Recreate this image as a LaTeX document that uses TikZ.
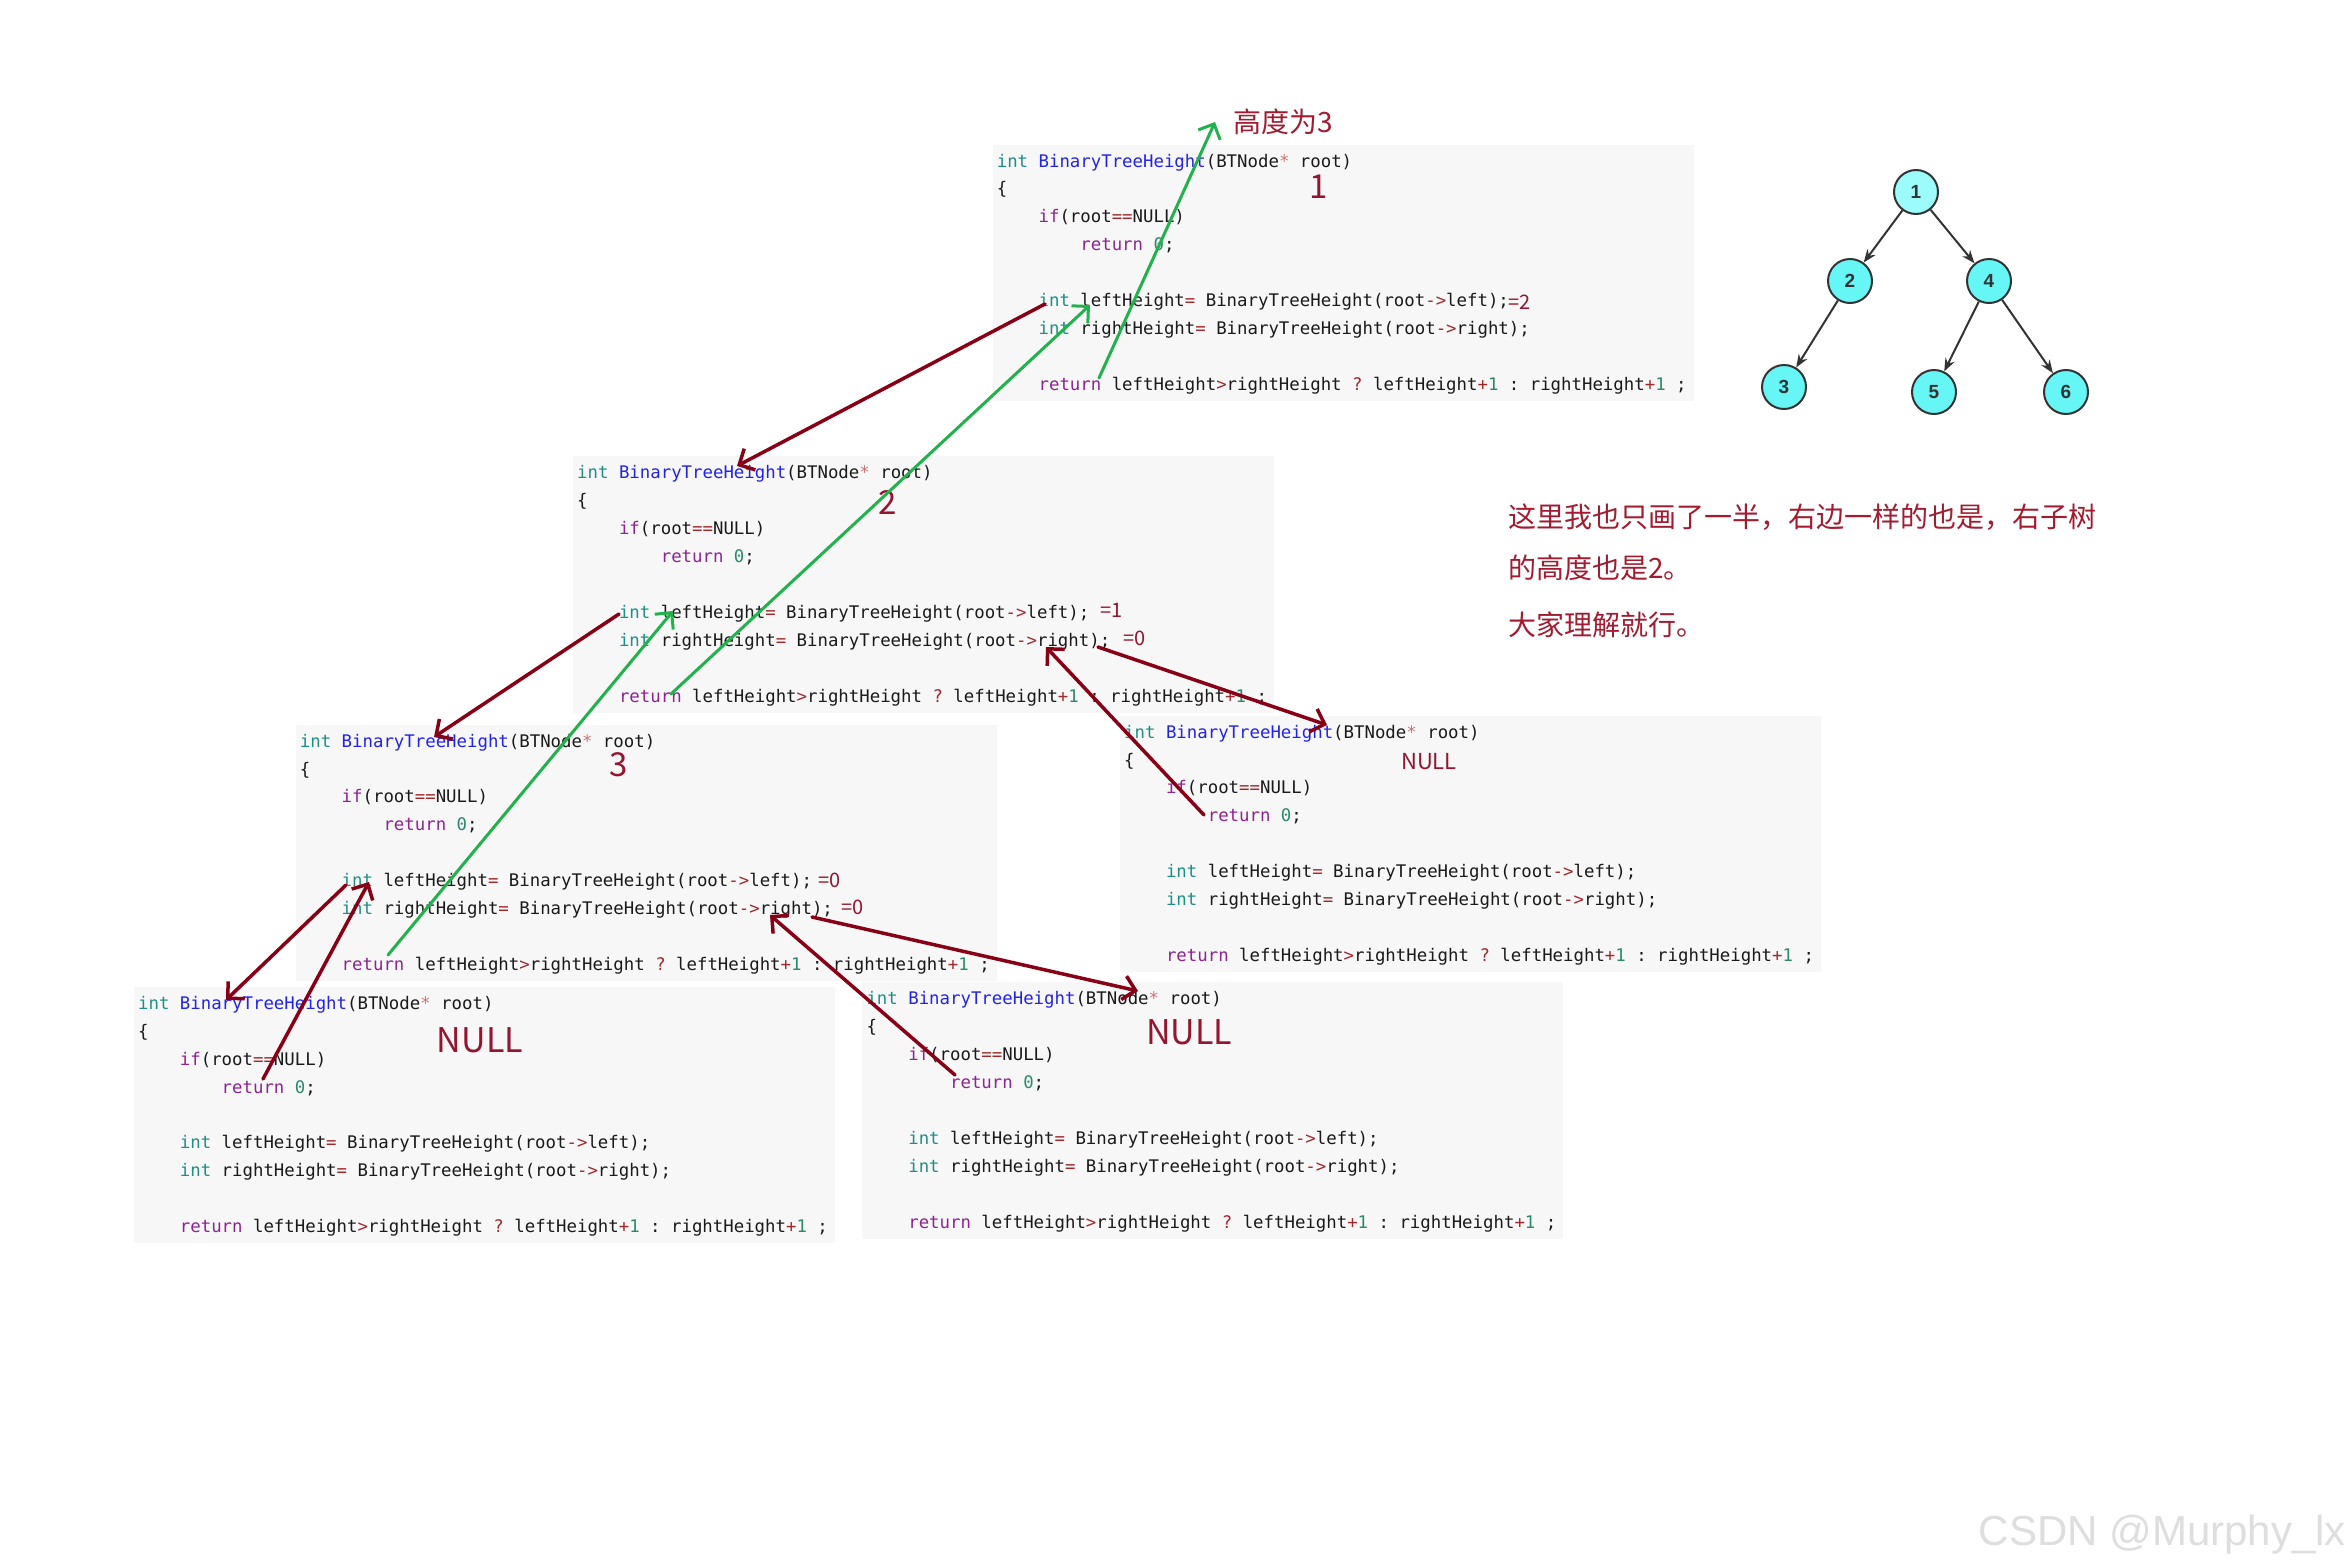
\documentclass[tikz,border=0pt]{standalone}
\usepackage{fontspec}
\setmainfont{Liberation Sans}
\setsansfont{Liberation Sans}
\setmonofont{DejaVu Sans Mono}
\newfontfamily\cjk{Noto Sans CJK SC}
\usetikzlibrary{arrows.meta}
\definecolor{codebg}{HTML}{F7F7F7}
\definecolor{ckwcol}{HTML}{1F8F86}
\definecolor{cfncol}{HTML}{2323E6}
\definecolor{cctlcol}{HTML}{8E2394}
\definecolor{copcol}{HTML}{A0282D}
\definecolor{cstcol}{HTML}{C87878}
\definecolor{cnmcol}{HTML}{2A8A6A}
\definecolor{ctxtcol}{HTML}{1A1A1A}
\definecolor{arrred}{HTML}{880015}
\definecolor{lblred}{HTML}{941530}
\definecolor{notered}{HTML}{A31B30}
\definecolor{arrgreen}{HTML}{22B14C}
\definecolor{tfillA}{HTML}{9CFCFC}
\definecolor{tfillB}{HTML}{66F6F6}
\definecolor{tline}{HTML}{333333}
\definecolor{wmcol}{HTML}{DEDEDE}
\newcommand\ckw[1]{\textcolor{ckwcol}{#1}}
\newcommand\cfn[1]{\textcolor{cfncol}{#1}}
\newcommand\cctl[1]{\textcolor{cctlcol}{#1}}
\newcommand\cop[1]{\textcolor{copcol}{#1}}
\newcommand\cst[1]{\textcolor{cstcol}{#1}}
\newcommand\cnm[1]{\textcolor{cnmcol}{#1}}
\newcommand\codefont{\ttfamily\fontsize{17.36}{20}\selectfont\frenchspacing}
\tikzset{
  code/.style={anchor=base west, inner sep=0pt, font=\codefont, text=ctxtcol},
  bignum/.style={inner sep=0pt, text=lblred, font=\cjk\fontsize{33}{33}\selectfont},
  eqlbl/.style={anchor=base west, inner sep=0pt, text=lblred, font=\cjk\fontsize{20}{20}\selectfont},
  nulllbl/.style={inner sep=0pt, text=lblred, font=\cjk\fontsize{34}{34}\selectfont},
  notetxt/.style={anchor=west, inner sep=0pt, text=notered, font=\cjk\fontsize{28}{28}\selectfont},
  redarr/.style={draw=arrred, line width=3.5pt, line cap=round, line join=round,
    -{Straight Barb[length=12pt,width=24pt]}},
  greenarr/.style={draw=arrgreen, line width=3pt, line cap=round, line join=round,
    -{Straight Barb[length=12pt,width=24pt]}},
  tnode/.style={circle, draw=tline, line width=2pt, fill=tfillB, minimum size=44pt,
    inner sep=0pt, text=tline, font=\sffamily\bfseries\fontsize{19}{19}\selectfont},
  tarr/.style={draw=tline, line width=2pt, -{Stealth[length=13pt,width=10pt]}},
}
\newcommand\cblock[3]{%
  \fill[codebg] ({#2-4},{#3-22.5}) rectangle ({#2+697},{#3+234});
  \node[code] (#1h) at (#2,#3) {\ckw{int} \cfn{BinaryTreeHeight}(BTNode\cst{*} root)};
  \node[code] (#1b) at (#2,{#3+27.9}) {\{};
  \node[code] (#1i) at ({#2+41.8},{#3+55.8}) {\cctl{if}(root\cop{==}NULL)};
  \node[code] (#1r) at ({#2+83.6},{#3+83.7}) {\cctl{return} \cnm{0};};
  \node[code] (#1l) at ({#2+41.8},{#3+139.5}) {\ckw{int} leftHeight\cop{=} BinaryTreeHeight(root\cop{->}left);};
  \node[code] (#1g) at ({#2+41.8},{#3+167.4}) {\ckw{int} rightHeight\cop{=} BinaryTreeHeight(root\cop{->}right);};
  \node[code] (#1e) at ({#2+41.8},{#3+223.2}) {\cctl{return} leftHeight\cop{>}rightHeight \cop{?} leftHeight\cop{+}\cnm{1} : rightHeight\cop{+}\cnm{1} ;};
}
\begin{document}
\begin{tikzpicture}[x=1pt,y=-1pt]
\useasboundingbox (0,0) rectangle (2350,1566);
\fill[white] (0,0) rectangle (2350,1566);

% code blocks
\cblock{ba}{996.6}{167}
\cblock{bb}{577}{478.8}
\cblock{bc}{299.7}{747.1}
\cblock{bd}{1124}{738.1}
\cblock{be}{137.9}{1009.4}
\cblock{bf}{866.3}{1004.9}

% labels
\node[bignum] (n1) at (1319,187) {1};
\node[bignum] (n2) at (888,503) {2};
\node[bignum] (n3) at (619,765) {3};
\node[inner sep=0pt, text=notered, font=\cjk\fontsize{28}{28}\selectfont] (hgt) at (1283,122) {高度为3};
\node[eqlbl] (eq2) at (1508,309) {=2};
\node[eqlbl] (eq1) at (1100,617) {=1};
\node[eqlbl] (eq0a) at (1123,645) {=0};
\node[eqlbl] (eq0b) at (818,887) {=0};
\node[eqlbl] (eq0c) at (841,914) {=0};
\node[nulllbl, font=\cjk\fontsize{22}{22}\selectfont] (nl4) at (1429,762) {NULL};
\node[nulllbl] (nl5) at (480,1040) {NULL};
\node[nulllbl] (nl6) at (1189,1032) {NULL};

% note
\node[notetxt] (note1) at (1508,517) {这里我也只画了一半，右边一样的也是，右子树};
\node[notetxt] (note2) at (1508,568) {的高度也是2。};
\node[notetxt] (note3) at (1508,625) {大家理解就行。};

% tree
\node[tnode, fill=tfillA] (t1) at (1916,192) {1};
\node[tnode] (t2) at (1850,281) {2};
\node[tnode] (t4) at (1989,281) {4};
\node[tnode] (t3) at (1784,387) {3};
\node[tnode] (t5) at (1934,392) {5};
\node[tnode] (t6) at (2066,392) {6};
\draw[tarr] (t1) -- (t2);
\draw[tarr] (t1) -- (t4);
\draw[tarr] (t2) -- (t3);
\draw[tarr] (t4) -- (t5);
\draw[tarr] (t4) -- (t6);

% arrow end points
\coordinate (r1s) at (1045,304);  \coordinate (r1e) at (737,466);
\coordinate (r2s) at (619,614);   \coordinate (r2e) at (434,737);
\coordinate (r3s) at (346,885);   \coordinate (r3e) at (226,1000);
\coordinate (r4s) at (263,1079);  \coordinate (r4e) at (369,882);
\coordinate (r5s) at (812,917);   \coordinate (r5e) at (1138,991);
\coordinate (r6s) at (955,1075);  \coordinate (r6e) at (770,915);
\coordinate (r7s) at (1098,647);  \coordinate (r7e) at (1327,725);
\coordinate (r8s) at (1204,815);  \coordinate (r8e) at (1046,647);
\coordinate (g1s) at (388,955);   \coordinate (g1e) at (673,611);
\coordinate (g2s) at (671,694);   \coordinate (g2e) at (1090,305);
\coordinate (g3s) at (1099,378);  \coordinate (g3e) at (1215,122);

\draw[redarr] (r1s) -- (r1e);
\draw[redarr] (r2s) -- (r2e);
\draw[redarr] (r3s) -- (r3e);
\draw[redarr] (r4s) -- (r4e);
\draw[redarr] (r5s) -- (r5e);
\draw[redarr] (r6s) -- (r6e);
\draw[redarr] (r7s) -- (r7e);
\draw[redarr] (r8s) -- (r8e);
\draw[greenarr] (g1s) -- (g1e);
\draw[greenarr] (g2s) -- (g2e);
\draw[greenarr] (g3s) -- (g3e);

% watermark
\node[anchor=base east, inner sep=0pt, text=wmcol, font=\fontsize{42}{42}\selectfont] (wm) at (2346,1545) {CSDN @Murphy\_lx};
\end{tikzpicture}
\end{document}
